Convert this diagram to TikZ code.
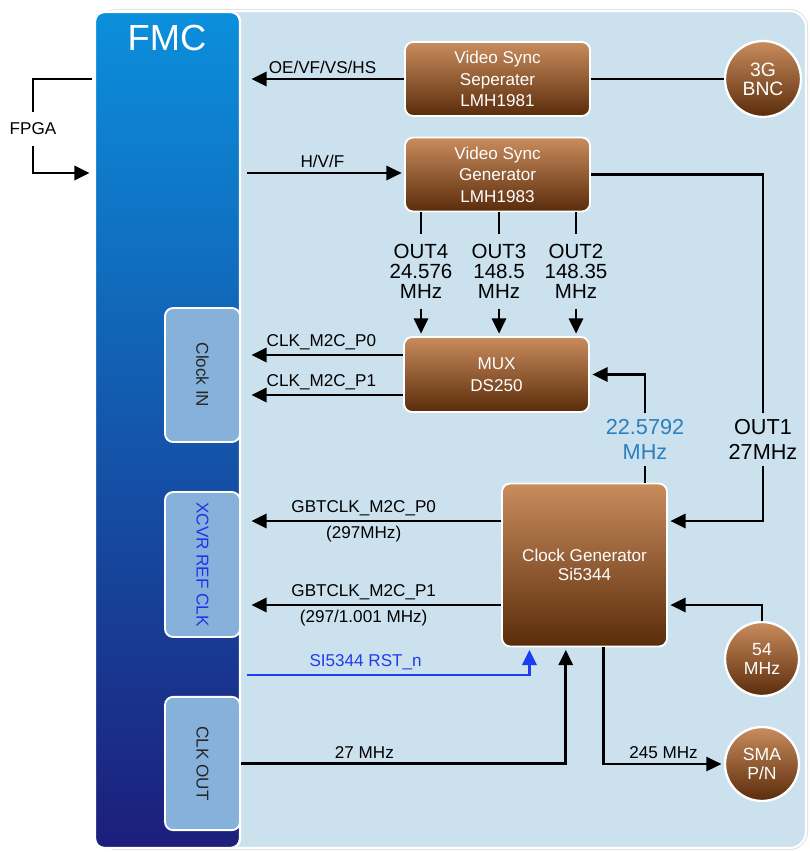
\documentclass[tikz,border=0pt]{standalone}
\usepackage{fontspec}
\setmainfont{Liberation Sans}
\usetikzlibrary{arrows.meta}
\definecolor{panelblue}{HTML}{CCE1EE}
\definecolor{fmctop}{HTML}{0B8FDC}
\definecolor{fmcmid}{HTML}{1262BA}
\definecolor{fmcbot}{HTML}{1C1E7B}
\definecolor{portblue}{HTML}{86B1DB}
\definecolor{chiptop}{HTML}{C98C5D}
\definecolor{chipbot}{HTML}{5A2C0B}
\definecolor{freqblue}{HTML}{2A7FBC}
\definecolor{rstblue}{HTML}{1E3CF0}
\definecolor{xcvrblue}{HTML}{2233E6}
\newcommand{\boxfont}{\fontsize{14.6}{18.3}\selectfont}
\newcommand{\jackfont}{\fontsize{15}{15.5}\selectfont}
\newcommand{\lblfont}{\fontsize{14.6}{16}\selectfont}
\newcommand{\outfont}{\fontsize{17.5}{17}\selectfont}
\newcommand{\mhzfont}{\fontsize{18.5}{21}\selectfont}
\newcommand{\titlefont}{\fontsize{31}{33}\selectfont}
\begin{document}
\begin{tikzpicture}[x = 0.03cm, y = -0.03cm,
    chip/.style = {draw = white, line width = 1.6pt, rounded corners = 7pt, top color = chiptop, bottom color = chipbot, text = white, align = center, font = \boxfont, inner sep = 0pt},
    jack/.style = {circle, draw = white, line width = 2pt, top color = chiptop, bottom color = chipbot, text = white, align = center, font = \jackfont, minimum size = 2.22cm, inner sep = 0pt},
    port/.style = {draw = white, line width = 1.6pt, rounded corners = 7pt, fill = portblue, text = black!85, font = \boxfont, rotate = -90, minimum height = 2.25cm, inner sep = 0pt},
    wire/.style = {line width = 2.5pt},
    sig/.style = {wire, -{Triangle[length = 13pt, width = 12pt]}, shorten > = 2pt},
    rst/.style = {sig, draw = rstblue, -{Triangle[length = 13pt, width = 12pt, fill = rstblue]}},
    lbl/.style = {font = \lblfont, inner sep = 1pt},
    outlbl/.style = {font = \outfont, align = center, minimum height = 2.22cm, inner sep = 0pt},
    mhz/.style = {font = \mhzfont, align = center, minimum height = 1.56cm, inner sep = 0pt}]
    \useasboundingbox (0,0) rectangle (809,852);
    \draw[black!12, line width = 3.5pt, rounded corners = 14pt] (100,11) rectangle (806,848);
    \draw[white, line width = 1.8pt, rounded corners = 14pt, fill = panelblue] (100,11) rectangle (806,848);
    \path[draw = white, line width = 2pt, rounded corners = 8pt, top color = fmctop, middle color = fmcmid, bottom color = fmcbot] (95,12) rectangle (240,848);
    \node[text = white, font = \titlefont] (fmctitle) at (167,38) {FMC};

    \node[port, minimum width = 4.02cm] (clkin) at (202.5,375) {Clock IN};
    \node[port, minimum width = 4.35cm, text = xcvrblue] (xcvr) at (202.5,564.5) {XCVR REF CLK};
    \node[port, minimum width = 4cm] (clkout) at (202.5,763.5) {CLK OUT};

    \coordinate (fpgaout) at (92,79);
    \coordinate (fpgain) at (92,173);
    \coordinate (oeend) at (249,79);
    \coordinate (hvfstart) at (247,173);
    \coordinate (clkin0) at (249,355);
    \coordinate (clkin1) at (249,395);
    \coordinate (xcvr0) at (249,521);
    \coordinate (xcvr1) at (249,605);
    \coordinate (rststart) at (247,675);

    \node[chip, minimum width = 5.55cm, minimum height = 2.22cm] (sep) at (497.5,79) {Video Sync\\Seperater\\LMH1981};
    \node[chip, minimum width = 5.55cm, minimum height = 2.22cm] (gen) at (497.5,174.5) {Video Sync\\Generator\\LMH1983};
    \node[chip, minimum width = 5.55cm, minimum height = 2.25cm] (mux) at (496.5,374.5) {MUX\\DS250};
    \node[chip, minimum width = 4.95cm, minimum height = 4.89cm, font = \fontsize{14.6}{16.5}\selectfont] (clkgen) at (584.5,565) {Clock Generator\\Si5344};

    \node[jack, minimum size = 2.28cm, font = \fontsize{16.5}{16}\selectfont] (bnc) at (763,79) {3G\\BNC};
    \node[jack] (mhz54) at (762,659) {54\\MHz};
    \node[jack] (sma) at (762,764) {SMA\\P/N};

    \node[lbl, minimum height = 1cm] (fpga) at (33,129) {FPGA};
    \draw[wire] (fpgaout) -| (fpga.north);
    \draw[sig] (fpga.south) |- (fpgain);

    \draw[sig] (sep.west) -- (oeend) node[lbl, above = 2pt, pos = .526] (oelbl) {OE/VF/VS/HS};
    \draw[wire] (sep.east) -- (bnc.west);
    \draw[sig] (hvfstart) -- (gen.west |- hvfstart) node[lbl, above = 2pt, pos = .48] (hvflbl) {H/V/F};

    \node[outlbl] (out4) at (421,271.5) {OUT4\\24.576\\MHz};
    \node[outlbl] (out3) at (499,271.5) {OUT3\\148.5\\MHz};
    \node[outlbl] (out2) at (576,271.5) {OUT2\\148.35\\MHz};
    \foreach \tap in {out4, out3, out2} {
        \draw[wire] (gen.south -| \tap.north) -- (\tap.north);
        \draw[sig] (\tap.south) -- (mux.north -| \tap.south);
    }

    \draw[sig] (mux.west |- clkin0) -- (clkin0) node[lbl, above = 2pt, pos = .53] (p0lbl) {CLK\_M2C\_P0};
    \draw[sig] (mux.west |- clkin1) -- (clkin1) node[lbl, above = 2pt, pos = .53] (p1lbl) {CLK\_M2C\_P1};

    \node[mhz, text = freqblue] (f22) at (645,439.5) {22.5792\\MHz};
    \node[mhz] (out1) at (763,439.5) {OUT1\\27MHz};
    \draw[wire] (clkgen.north -| f22.south) -- (f22.south);
    \draw[sig] (f22.north) |- (mux.east);
    \draw[wire] (gen.east) -| (out1.north);
    \draw[sig] (out1.south) |- (clkgen.east |- xcvr0);
    \draw[sig] (mhz54.north) |- (clkgen.east |- xcvr1);

    \draw[sig] (clkgen.west |- xcvr0) -- (xcvr0)
        node[lbl, above = 2pt, pos = .545] (g0lbl) {GBTCLK\_M2C\_P0}
        node[lbl, below = 2pt, pos = .545] (g0freq) {(297MHz)};
    \draw[sig] (clkgen.west |- xcvr1) -- (xcvr1)
        node[lbl, above = 2pt, pos = .545] (g1lbl) {GBTCLK\_M2C\_P1}
        node[lbl, below = 2pt, pos = .545] (g1freq) {(297/1.001 MHz)};

    \draw[rst] (rststart) -| ([xshift = -47pt]clkgen.south) node[lbl, text = rstblue, above = 2pt, pos = .21] (rstlbl) {SI5344 RST\_n};
    \draw[sig] (clkout.north) -| ([xshift = -16pt]clkgen.south) node[lbl, above = 2pt, pos = .19] (c27lbl) {27 MHz};
    \draw[sig] ([xshift = 16pt]clkgen.south) |- (sma.west) node[lbl, above = 2pt, pos = .75] (c245lbl) {245 MHz};
\end{tikzpicture}
\end{document}
